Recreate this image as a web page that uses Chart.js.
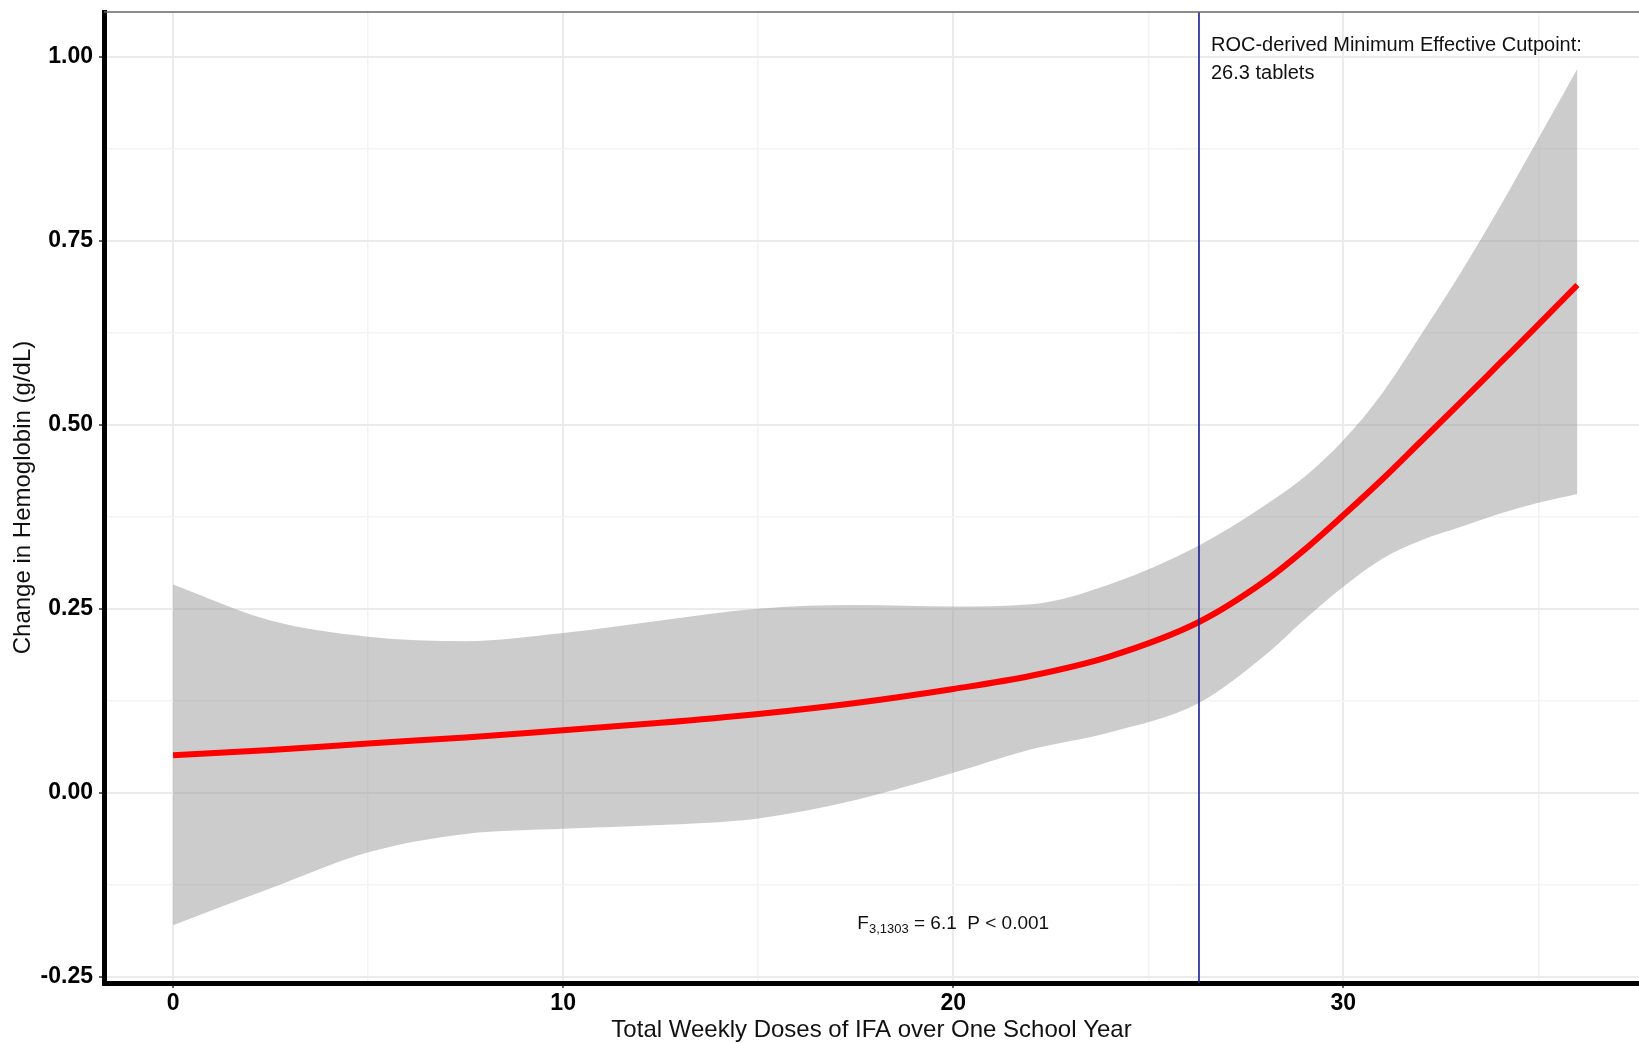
<!DOCTYPE html>
<html>
<head>
<meta charset="utf-8">
<title>Change in Hemoglobin by IFA doses</title>
<script src="https://cdn.jsdelivr.net/npm/chart.js@4.4.1/dist/chart.umd.min.js"></script>
<style>
  html, body { margin: 0; padding: 0; background: #fff; }
  #wrap { width: 1639px; height: 1043px; }
</style>
</head>
<body>
<div id="wrap"><canvas id="hbChart" width="1639" height="1043"></canvas></div>
<script>
/* Values (smoothed fit with its confidence band) */
const doses = [0, 2.5, 5, 7.5, 10, 12.5, 15, 17.5, 20, 22, 24, 26.3, 28, 29, 30, 31, 32, 33, 34, 35, 36];
const fitValues = [0.051, 0.058, 0.067, 0.075, 0.085, 0.095, 0.107, 0.122, 0.141, 0.159, 0.185, 0.232, 0.288, 0.330, 0.377, 0.426, 0.478, 0.530, 0.583, 0.636, 0.690];
const upperBand = [0.283, 0.234, 0.212, 0.206, 0.217, 0.234, 0.250, 0.255, 0.253, 0.256, 0.283, 0.336, 0.391, 0.429, 0.479, 0.543, 0.623, 0.706, 0.795, 0.889, 0.984];
const lowerBand = [-0.180, -0.130, -0.081, -0.056, -0.049, -0.044, -0.035, -0.010, 0.027, 0.059, 0.082, 0.122, 0.187, 0.235, 0.280, 0.318, 0.343, 0.361, 0.379, 0.394, 0.406];

// axis ticks: labelled majors and unlabelled minor gridlines
const xMajorTicks = [0, 10, 20, 30];
const xMinorTicks = [5, 15, 25, 35];
const yMajorTicks = [-0.25, 0, 0.25, 0.5, 0.75, 1.0];
const yMinorTicks = [-0.125, 0.125, 0.375, 0.625, 0.875];

const cutpoint = 26.3;
const cutpointLabel = ['ROC-derived Minimum Effective Cutpoint:', '26.3 tablets'];
const statLabel = { main: 'F', sub: '3,1303', rest: ' = 6.1  P < 0.001' };

const FONT = "'Liberation Sans', Arial, sans-serif";

function toPoints(ys) {
  return doses.map((x, i) => ({ x: x, y: ys[i] }));
}

/* extra drawing: cutpoint line, text labels, top panel border */
const extras = {
  id: 'extras',
  afterDatasetsDraw(chart) {
    const { ctx, chartArea, scales: { x, y } } = chart;
    ctx.save();

    // vertical cutpoint line
    const cx = x.getPixelForValue(cutpoint);
    ctx.strokeStyle = '#1c1c96';
    ctx.lineWidth = 1.6;
    ctx.beginPath();
    ctx.moveTo(cx, chartArea.top);
    ctx.lineTo(cx, chartArea.bottom);
    ctx.stroke();

    // cutpoint annotation
    ctx.fillStyle = '#111';
    ctx.font = '20px ' + FONT;
    ctx.textAlign = 'left';
    ctx.textBaseline = 'middle';
    ctx.fillText(cutpointLabel[0], cx + 12, y.getPixelForValue(1.016));
    ctx.fillText(cutpointLabel[1], cx + 12, y.getPixelForValue(0.978));

    // F statistic with subscript, centred on x = 20
    const mainFont = "19px 'Liberation Sans Narrow', " + FONT;
    const subFont = "13px 'Liberation Sans Narrow', " + FONT;
    ctx.font = mainFont;
    const wMain = ctx.measureText(statLabel.main).width;
    const wRest = ctx.measureText(statLabel.rest).width;
    ctx.font = subFont;
    const wSub = ctx.measureText(statLabel.sub).width;
    const total = wMain + wSub + wRest;
    let sx = x.getPixelForValue(20) - total / 2;
    const sy = y.getPixelForValue(-0.176);
    ctx.textBaseline = 'alphabetic';
    ctx.font = mainFont;
    ctx.fillText(statLabel.main, sx, sy + 7);
    sx += wMain;
    ctx.font = subFont;
    ctx.fillText(statLabel.sub, sx, sy + 11);
    sx += wSub;
    ctx.font = mainFont;
    ctx.fillText(statLabel.rest, sx, sy + 7);

    ctx.restore();
  },
  afterDraw(chart) {
    const { ctx, chartArea } = chart;
    ctx.save();
    ctx.strokeStyle = '#666';
    ctx.lineWidth = 1.5;
    ctx.beginPath();
    ctx.moveTo(chartArea.left, chartArea.top);
    ctx.lineTo(chartArea.right, chartArea.top);
    ctx.stroke();
    ctx.restore();
  }
};

const isMajor = ctx => {
  const v = ctx.tick ? ctx.tick.value : null;
  return ctx.scale.axis === 'x' ? xMajorTicks.includes(v) : yMajorTicks.includes(v);
};

const gridOpts = {
  color: ctx => isMajor(ctx) ? '#ebebeb' : '#f3f3f3',
  lineWidth: ctx => isMajor(ctx) ? 2 : 1.5,
  tickLength: 5,
  tickWidth: 1.5,
  tickColor: ctx => isMajor(ctx) ? '#333' : 'rgba(0,0,0,0)'
};

new Chart(document.getElementById('hbChart'), {
  type: 'line',
  data: {
    datasets: [
      {
        label: 'lower',
        data: toPoints(lowerBand),
        borderWidth: 0,
        pointRadius: 0,
        fill: false,
        order: 2,
        cubicInterpolationMode: 'monotone'
      },
      {
        label: 'upper',
        data: toPoints(upperBand),
        borderWidth: 0,
        pointRadius: 0,
        backgroundColor: 'rgba(153,153,153,0.5)',
        fill: '-1',
        order: 1,
        cubicInterpolationMode: 'monotone'
      },
      {
        label: 'fit',
        data: toPoints(fitValues),
        borderColor: '#ff0000',
        borderWidth: 6,
        pointRadius: 0,
        fill: false,
        order: 0,
        cubicInterpolationMode: 'monotone'
      }
    ]
  },
  options: {
    responsive: false,
    devicePixelRatio: 1,
    animation: false,
    layout: { padding: { top: 12, right: 0, bottom: 0, left: 0 } },
    plugins: {
      legend: { display: false },
      tooltip: { enabled: false }
    },
    scales: {
      x: {
        type: 'linear',
        min: -1.77,
        max: 37.58,
        afterBuildTicks: scale => {
          scale.ticks = xMajorTicks.concat(xMinorTicks).sort((a, b) => a - b).map(v => ({ value: v }));
        },
        afterFit: scale => {
          scale.height = 60;
          scale.paddingLeft = 0;
          scale.paddingRight = 0;
        },
        ticks: {
          autoSkip: false,
          maxRotation: 0,
          padding: 2,
          color: '#000',
          font: { family: FONT, size: 23, weight: 'bold' },
          callback: v => xMajorTicks.includes(v) ? String(v) : ''
        },
        grid: gridOpts,
        border: { display: true, color: '#000', width: 5 },
        title: {
          display: true,
          text: 'Total Weekly Doses of IFA over One School Year',
          color: '#111',
          font: { family: FONT, size: 24, lineHeight: 1 },
          padding: { top: 0, bottom: 1 }
        }
      },
      y: {
        type: 'linear',
        min: -0.2586,
        max: 1.061,
        afterBuildTicks: scale => {
          scale.ticks = yMajorTicks.concat(yMinorTicks).sort((a, b) => a - b).map(v => ({ value: v }));
        },
        afterFit: scale => {
          scale.width = 104;
          scale.paddingTop = 0;
          scale.paddingBottom = 0;
        },
        ticks: {
          autoSkip: false,
          padding: 6,
          color: '#000',
          font: { family: FONT, size: 23, weight: 'bold' },
          callback: v => yMajorTicks.includes(v) ? v.toFixed(2) : ''
        },
        grid: gridOpts,
        border: { display: true, color: '#000', width: 5 },
        title: {
          display: true,
          text: 'Change in Hemoglobin (g/dL)',
          color: '#111',
          font: { family: FONT, size: 24, lineHeight: 1.2 },
          padding: { top: 9, bottom: 0 }
        }
      }
    }
  },
  plugins: [extras]
});
</script>
</body>
</html>
